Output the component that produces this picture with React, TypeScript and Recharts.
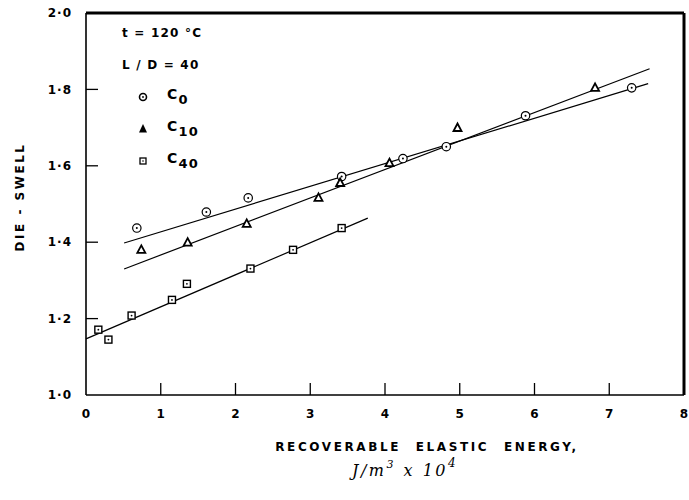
import React from 'react';
import { ComposedChart, Scatter, XAxis, YAxis, ReferenceLine, Legend } from 'recharts';

const xTicks = [0, 1, 2, 3, 4, 5, 6, 7, 8];
const yTicks = [1.0, 1.2, 1.4, 1.6, 1.8, 2.0];
const xDomain = [0, 8];
const yDomain = [1, 2];

// measured points
const c0 = [
  { x: 0.68, y: 1.437 },
  { x: 1.61, y: 1.479 },
  { x: 2.17, y: 1.516 },
  { x: 3.42, y: 1.572 },
  { x: 4.24, y: 1.619 },
  { x: 4.82, y: 1.65 },
  { x: 5.88, y: 1.731 },
  { x: 7.3, y: 1.804 },
];
const c10 = [
  { x: 0.74, y: 1.38 },
  { x: 1.36, y: 1.399 },
  { x: 2.15, y: 1.448 },
  { x: 3.11, y: 1.516 },
  { x: 3.4, y: 1.555 },
  { x: 4.06, y: 1.607 },
  { x: 4.97, y: 1.699 },
  { x: 6.81, y: 1.804 },
];
const c40 = [
  { x: 0.165, y: 1.171 },
  { x: 0.3, y: 1.145 },
  { x: 0.61, y: 1.208 },
  { x: 1.15, y: 1.249 },
  { x: 1.35, y: 1.291 },
  { x: 2.2, y: 1.331 },
  { x: 2.77, y: 1.38 },
  { x: 3.42, y: 1.437 },
];

// fitted straight lines (end points)
const c0Fit = [{ x: 0.51, y: 1.398 }, { x: 7.52, y: 1.815 }];
const c10Fit = [{ x: 0.51, y: 1.33 }, { x: 7.54, y: 1.854 }];
const c40Fit = [{ x: 0, y: 1.147 }, { x: 3.77, y: 1.463 }];

const FONT = '"DejaVu Sans", sans-serif';
const fmt = (v: number) => v.toFixed(1).replace('.', '\u00b7');

const CircleDot = (p: any) => (
  <g>
    <circle cx={p.cx} cy={p.cy} r={4.2} fill="#fff" stroke="#000" strokeWidth={1.2} />
    <circle cx={p.cx} cy={p.cy} r={1} fill="#000" />
  </g>
);
const Tri = (p: any) => (
  <polygon
    points={`${p.cx},${p.cy - 4.5} ${p.cx - 4},${p.cy + 3} ${p.cx + 4},${p.cy + 3}`}
    fill="#fff"
    stroke="#000"
    strokeWidth={1.8}
  />
);
const SquareDot = (p: any) => (
  <g>
    <rect x={p.cx - 3.5} y={p.cy - 3.5} width={7} height={7} fill="#fff" stroke="#000" strokeWidth={1.4} />
    <circle cx={p.cx} cy={p.cy} r={0.9} fill="#000" />
  </g>
);

const YTick = (props: any) => {
  const { x, y, payload } = props;
  const ax = x + 14;
  const v = payload.value;
  return (
    <g>
      {v > 1.0 && v < 2.0 && <line x1={ax} x2={ax + 12} y1={y} y2={y} stroke="#000" strokeWidth={1.3} />}
      <text x={x} y={y} dy="0.35em" textAnchor="end" fontFamily={FONT} fontSize={12} fontWeight="bold" letterSpacing={1}>
        {fmt(v)}
      </text>
    </g>
  );
};

const XTick = (props: any) => {
  const { x, y, payload } = props;
  const ay = y - 14;
  const v = payload.value;
  return (
    <g>
      {v > 0 && v < 8 && <line x1={x} x2={x} y1={ay} y2={ay - 12} stroke="#000" strokeWidth={1.3} />}
      <text x={x} y={y} dy="0.71em" textAnchor="middle" fontFamily={FONT} fontSize={12} fontWeight="bold">
        {v}
      </text>
    </g>
  );
};

const YLabel = (props: any) => {
  const vb = props.viewBox;
  const cx = vb.x + 20;
  const cy = vb.y + vb.height / 2 - 7;
  return (
    <text
      x={cx}
      y={cy}
      transform={`rotate(-90 ${cx} ${cy})`}
      textAnchor="middle"
      dominantBaseline="central"
      fontFamily={FONT}
      fontSize={12}
      fontWeight="bold"
      letterSpacing={2.5}
    >
      DIE - SWELL
    </text>
  );
};

const XLabel = (props: any) => {
  const vb = props.viewBox;
  const cx = vb.x + 341;
  return (
    <g fontFamily={FONT}>
      <text x={cx} y={vb.y + 52} textAnchor="middle" dominantBaseline="central" fontSize={12} fontWeight="bold" letterSpacing={2.6} wordSpacing={8}>
        RECOVERABLE ELASTIC ENERGY,
      </text>
      <text x={vb.x + 266} y={vb.y + 75} dominantBaseline="central" fontSize={16} fontStyle="italic" letterSpacing={2.5} fontFamily='"DejaVu Serif", serif'>
        J/m<tspan dy={-6} fontSize={11}>3</tspan><tspan dy={6}> x 10</tspan><tspan dy={-7} fontSize={12}>4</tspan>
      </text>
    </g>
  );
};

const legendRows = [
  { name: 'C', sub: '0', kind: 'circle' },
  { name: 'C', sub: '10', kind: 'tri' },
  { name: 'C', sub: '40', kind: 'square' },
];

const LegendBox = () => (
  <div style={{ fontFamily: FONT, fontSize: 12, fontWeight: 'bold', letterSpacing: 1.2, color: '#000', lineHeight: '32px' }}>
    <div style={{ paddingLeft: 7, whiteSpace: 'pre' }}>t = 120 °C</div>
    <div style={{ paddingLeft: 7, whiteSpace: 'pre' }}>L / D = 40</div>
    {legendRows.map((r) => (
      <div key={r.sub} style={{ display: 'flex', alignItems: 'center', height: 32 }}>
        <svg width={52} height={14} style={{ overflow: 'visible' }}>
          {r.kind === 'circle' && (
            <g>
              <circle cx={28} cy={7} r={3.5} fill="#fff" stroke="#000" strokeWidth={1.6} />
              <circle cx={28} cy={7} r={0.9} fill="#000" />
            </g>
          )}
          {r.kind === 'tri' && <polygon points="28,2 24,10.5 32,10.5" fill="#000" />}
          {r.kind === 'square' && (
            <g>
              <rect x={25} y={4} width={6} height={6} fill="#fff" stroke="#000" strokeWidth={1.3} />
              <circle cx={28} cy={7} r={0.8} fill="#000" />
            </g>
          )}
        </svg>
        <span style={{ fontSize: 14 }}>
          {r.name}
          <sub style={{ fontSize: 13, verticalAlign: -5 }}>{r.sub}</sub>
        </span>
      </div>
    ))}
  </div>
);

export default function App() {
  return (
    <div style={{ position: 'absolute', left: 0, top: 0, background: '#fff' }}>
      <ComposedChart width={689} height={500} margin={{ top: 13, right: 5, left: 0, bottom: 0 }}>
        <XAxis
          type="number"
          dataKey="x"
          domain={xDomain}
          ticks={xTicks}
          interval={0}
          height={105}
          tickSize={0}
          tickMargin={14}
          tick={<XTick />}
          axisLine={{ stroke: '#000', strokeWidth: 1.6 }}
          label={(p: any) => <XLabel {...p} />}
        />
        <YAxis
          type="number"
          dataKey="y"
          domain={yDomain}
          ticks={yTicks}
          interval={0}
          width={86}
          tickSize={0}
          tickMargin={14}
          tick={<YTick />}
          axisLine={{ stroke: '#000', strokeWidth: 1.6 }}
          label={(p: any) => <YLabel {...p} />}
        />
        <ReferenceLine y={yDomain[1]} stroke="#000" strokeWidth={3} />
        <ReferenceLine x={xDomain[1]} stroke="#000" strokeWidth={3} />
        <ReferenceLine segment={c0Fit} stroke="#000" strokeWidth={1.2} ifOverflow="visible" />
        <ReferenceLine segment={c10Fit} stroke="#000" strokeWidth={1.2} ifOverflow="visible" />
        <ReferenceLine segment={c40Fit} stroke="#000" strokeWidth={1.2} ifOverflow="visible" />
        <Scatter name="C0" data={c0} shape={<CircleDot />} isAnimationActive={false} />
        <Scatter name="C10" data={c10} shape={<Tri />} isAnimationActive={false} />
        <Scatter name="C40" data={c40} shape={<SquareDot />} isAnimationActive={false} />
        <Legend
          layout="vertical"
          align="center"
          verticalAlign="middle"
          content={<LegendBox />}
          wrapperStyle={{ left: 115, top: 17, width: 140 }}
        />
      </ComposedChart>
    </div>
  );
}
